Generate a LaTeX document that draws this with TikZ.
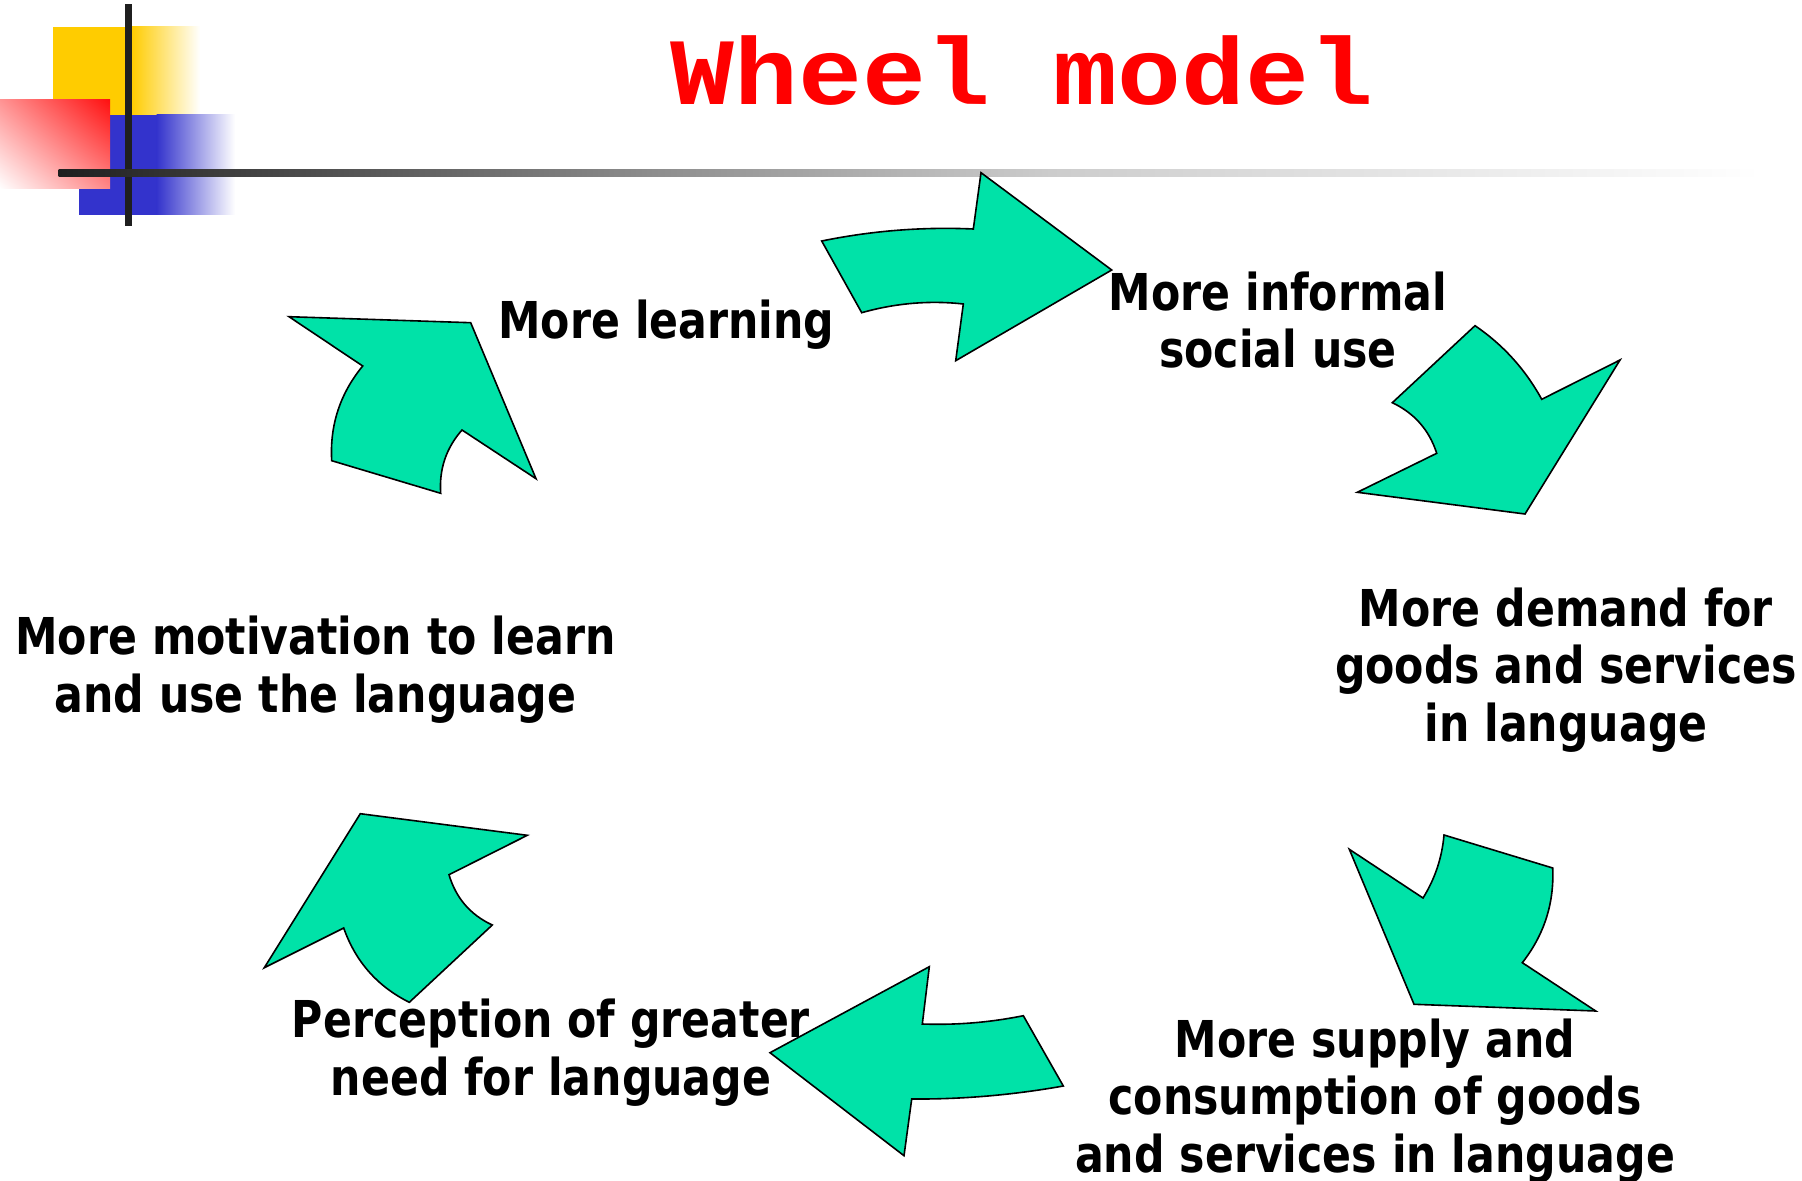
\documentclass[tikz,border=0pt]{standalone}
\usepackage{fontspec}
\usetikzlibrary{shadings}
\newfontfamily\lblfont[FakeStretch=0.84]{DejaVu Sans}
\newfontfamily\ttlfont[FakeStretch=1.12]{Liberation Mono}
\definecolor{arrowgreen}{HTML}{00E2A8}
\definecolor{logoyellow}{HTML}{FFCC00}
\definecolor{logoblue}{HTML}{3333CC}
\definecolor{logored}{HTML}{FF1010}
\definecolor{barblack}{HTML}{1F1F1F}
\definecolor{titlered}{HTML}{FF0000}
\tikzset{
  wheelarrow/.style={fill=arrowgreen, draw=black, line width=0.8pt, line join=miter},
  lbl/.style={font=\lblfont\bfseries\fontsize{25.4}{28.75}\selectfont, align=center, inner sep=0pt, anchor=base, text=black},
  ttl/.style={font=\ttlfont\bfseries\fontsize{47.5}{55}\selectfont, inner sep=0pt, anchor=base, text=titlered}
}
\begin{document}
\begin{tikzpicture}[x=0.5pt,y=-0.5pt]
\useasboundingbox[fill=white] (0,0) rectangle (1802,1181);
% logo
\fill[logoyellow] (53.3,26.7) rectangle (132,115);
\shade[left color=logoyellow, right color=white] (131.5,26.7) rectangle (200,115);
\fill[logoblue] (79,115) rectangle (157,215);
\shade[left color=logoblue, right color=white] (156.5,115) rectangle (235,215);
\shade[upper right=logored, lower left=white, upper left=logored!45!white, lower right=logored!50!white] (0,100) rectangle (110,189);
\fill[barblack] (125,4) rectangle (132,226);
\shade[left color=barblack, right color=black!45] (58.7,170) rectangle (650.5,177);
\shade[left color=black!45, right color=black!20] (650,170) rectangle (1050.5,177);
\shade[left color=black!20, right color=white] (1050,170) rectangle (1760,177);
% title
\node[ttl] (title) at (1022,105) {Wheel model};
% arrows
\draw[wheelarrow] (821.7,241) .. controls (872.2,230.7) and (922.8,226.7) .. (973.3,229) -- (981,172.7) -- (1111.7,270) -- (955.7,360.7) -- (963.3,304) .. controls (929.4,300.25) and (895.6,303.15) .. (861.7,312.7) -- cycle;
\draw[wheelarrow] (1475,325.7) .. controls (1503.1,344.8) and (1525.3,369.4) .. (1541.7,399.3) -- (1620,360) -- (1525,514) -- (1357.3,492.3) -- (1436.7,453.3) .. controls (1429.2,430) and (1414.4,413.2) .. (1392.3,402.7) -- cycle;
\draw[wheelarrow] (1349.3,849.3) -- (1423,898) .. controls (1435,878.7) and (1442,857.7) .. (1444,835) -- (1552.7,868) .. controls (1554.3,903.3) and (1544.1,934.9) .. (1522.3,962.7) -- (1595.7,1011) -- (1414,1004.3) -- cycle;
\draw[wheelarrow] (1063.3,1086) .. controls (1012.8,1095) and (962.2,1099.4) .. (911.7,1099) -- (904,1155.7) -- (770,1052.7) -- (929.3,966.7) -- (922.3,1024) .. controls (956,1025.2) and (989.6,1022.5) .. (1023.3,1015.7) -- cycle;
\draw[wheelarrow] (409.3,1002.3) .. controls (377.4,986.4) and (355.6,961.7) .. (343.7,928) -- (264.3,967.7) -- (360.3,813.7) -- (527.3,835.3) -- (449,874.7) .. controls (455.9,898) and (470.3,914.8) .. (492.3,925) -- cycle;
\draw[wheelarrow] (331.7,460.7) .. controls (329.7,425.1) and (340.1,393.5) .. (362.7,366) -- (289,316.7) -- (470.7,322.7) -- (536,478.7) -- (462,430) .. controls (446.1,448.1) and (439,469.2) .. (440.7,493.3) -- cycle;
% labels
\node[lbl] (learning) at (666.5,339) {More learning};
\node[lbl] (informal) at (1278,367.7) {More informal\\social use};
\node[lbl] (demand) at (1566,741) {More demand for\\goods and services\\in language};
\node[lbl] (supply) at (1375,1172) {More supply and\\consumption of goods\\and services in language};
\node[lbl] (need) at (551,1095) {Perception of greater\\need for language};
\node[lbl] (motivation) at (315.5,712) {More motivation to learn\\and use the language};
\end{tikzpicture}
\end{document}
